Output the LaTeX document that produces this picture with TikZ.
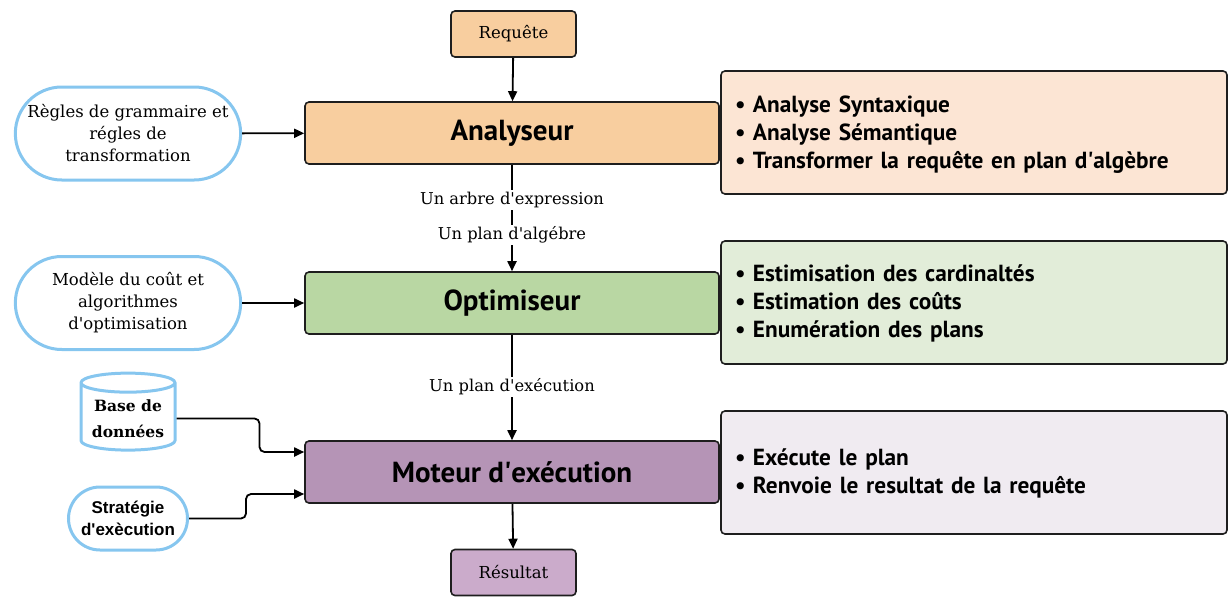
\documentclass[tikz,border=0pt]{standalone}
\usepackage{fontspec}
\setmainfont{DejaVu Serif}
\newfontfamily\ptsans{PT Sans}
\newfontfamily\arialfont{Liberation Sans}
\usetikzlibrary{shapes.geometric,shapes.misc,arrows.meta,calc}

\definecolor{edge}{HTML}{1E1E1E}
\definecolor{sky}{HTML}{86C6EF}
\definecolor{peach}{HTML}{F8CE9F}
\definecolor{peachlight}{HTML}{FCE5D4}
\definecolor{sage}{HTML}{B9D7A3}
\definecolor{sagelight}{HTML}{E2EDD9}
\definecolor{mauve}{HTML}{B594B6}
\definecolor{mauvesoft}{HTML}{CBABCB}
\definecolor{mauvelight}{HTML}{F0EBF1}

\tikzset{
  stage/.style={draw=edge, line width=1.6pt, rounded corners=4pt,
    minimum width=414pt, minimum height=62pt,
    font=\ptsans\bfseries\fontsize{29}{32}\selectfont},
  endpoint/.style={draw=edge, line width=1.6pt, rounded corners=4pt,
    minimum width=125pt, minimum height=46pt,
    font=\fontsize{16.5}{20}\selectfont},
  source/.style={draw=sky, line width=3pt, fill=white, rounded rectangle,
    align=center, font=\fontsize{16.5}{22}\selectfont},
  note/.style={draw=edge, line width=1.6pt, rounded corners=4pt,
    minimum width=506pt, minimum height=123pt},
  notetext/.style={text width=478pt, inner sep=0pt, align=left,
    font=\ptsans\bfseries\fontsize{23.3}{28}\selectfont},
  flow/.style={-{Triangle[length=10pt,width=9pt]}, line width=1.8pt, draw=black},
  tag/.style={fill=white, inner sep=2pt, font=\fontsize{16.3}{20}\selectfont},
}
\newcommand{\itm}{\makebox[18pt][l]{\textbullet}}
\newcommand{\ap}{\textquotesingle}

\begin{document}
\begin{tikzpicture}[x=1pt,y=-1pt]
\useasboundingbox (0,0) rectangle (1230,597);

% pipeline stages
\node[endpoint, fill=peach] (req) at (513.5,34) {Requête};
\node[stage, fill=peach] (ana) at (512,133) {Analyseur};
\node[stage, fill=sage] (opt) at (512,303) {Optimiseur};
\node[stage, fill=mauve] (mot) at (512,472) {Moteur d\ap exécution};
\node[endpoint, fill=mauvesoft] (res) at (513.5,572.5) {Résultat};

% descriptions of each stage
\node[note, fill=peachlight] (d1) at (974,132.5) {};
\node[notetext] (t1) at ([yshift=-2pt]d1.center)
  {\itm Analyse Syntaxique\\ \itm Analyse Sémantique\\ \itm Transformer la requête en plan d\ap algèbre};
\node[note, fill=sagelight] (d2) at (974,302.5) {};
\node[notetext] (t2) at ([yshift=-0.5pt]d2.center)
  {\itm Estimisation des cardinaltés\\ \itm Estimation des coûts\\ \itm Enumération des plans};
\node[note, fill=mauvelight] (d3) at (974,472.5) {};
\node[notetext] (t3) at ([yshift=-0.5pt]d3.center)
  {\itm Exécute le plan\\ \itm Renvoie le resultat de la requête};

% inputs
\node[source, minimum width=232pt, minimum height=93pt] (rules) at (128,133.5)
  {Règles de grammaire et\\ régles de\\ transformation};
\node[source, minimum width=232pt, minimum height=93pt] (cost) at (128,303)
  {Modèle du coût et\\ algorithmes\\ d\ap optimisation};
\node[draw=sky, line width=3pt, fill=white, cylinder, shape border rotate=90,
  aspect=0.25, minimum width=94pt, minimum height=77pt, align=center,
  inner sep=2pt, font=\bfseries\fontsize{15.5}{26}\selectfont] (db) at (128,418.5)
  {Base de\\ données};
\node[source, minimum width=125pt, minimum height=63pt, inner sep=3pt,
  font=\arialfont\bfseries\fontsize{17}{22}\selectfont] (strat) at (128,518.5)
  {Stratégie\\ d\ap exècution};

% connectors
\draw[flow] (req) -- (ana);
\draw[flow] (rules) -- (ana);
\draw[flow] (cost) -- (opt);
\draw[flow] (ana) -- node[tag, pos=0.333] {Un arbre d\ap expression}
                     node[tag, pos=0.66] {Un plan d\ap algébre} (opt);
\draw[flow] (opt) -- node[tag, pos=0.495] {Un plan d\ap exécution} (mot);
\draw[flow] (mot) -- (res);
\draw[flow, rounded corners=5pt] (db.east) -- ++(83,0) |- ([yshift=20pt]mot.west);
\draw[flow, rounded corners=5pt] (strat.east) -- ++(57,0) |- ([yshift=-22pt]mot.west);
\end{tikzpicture}
\end{document}
